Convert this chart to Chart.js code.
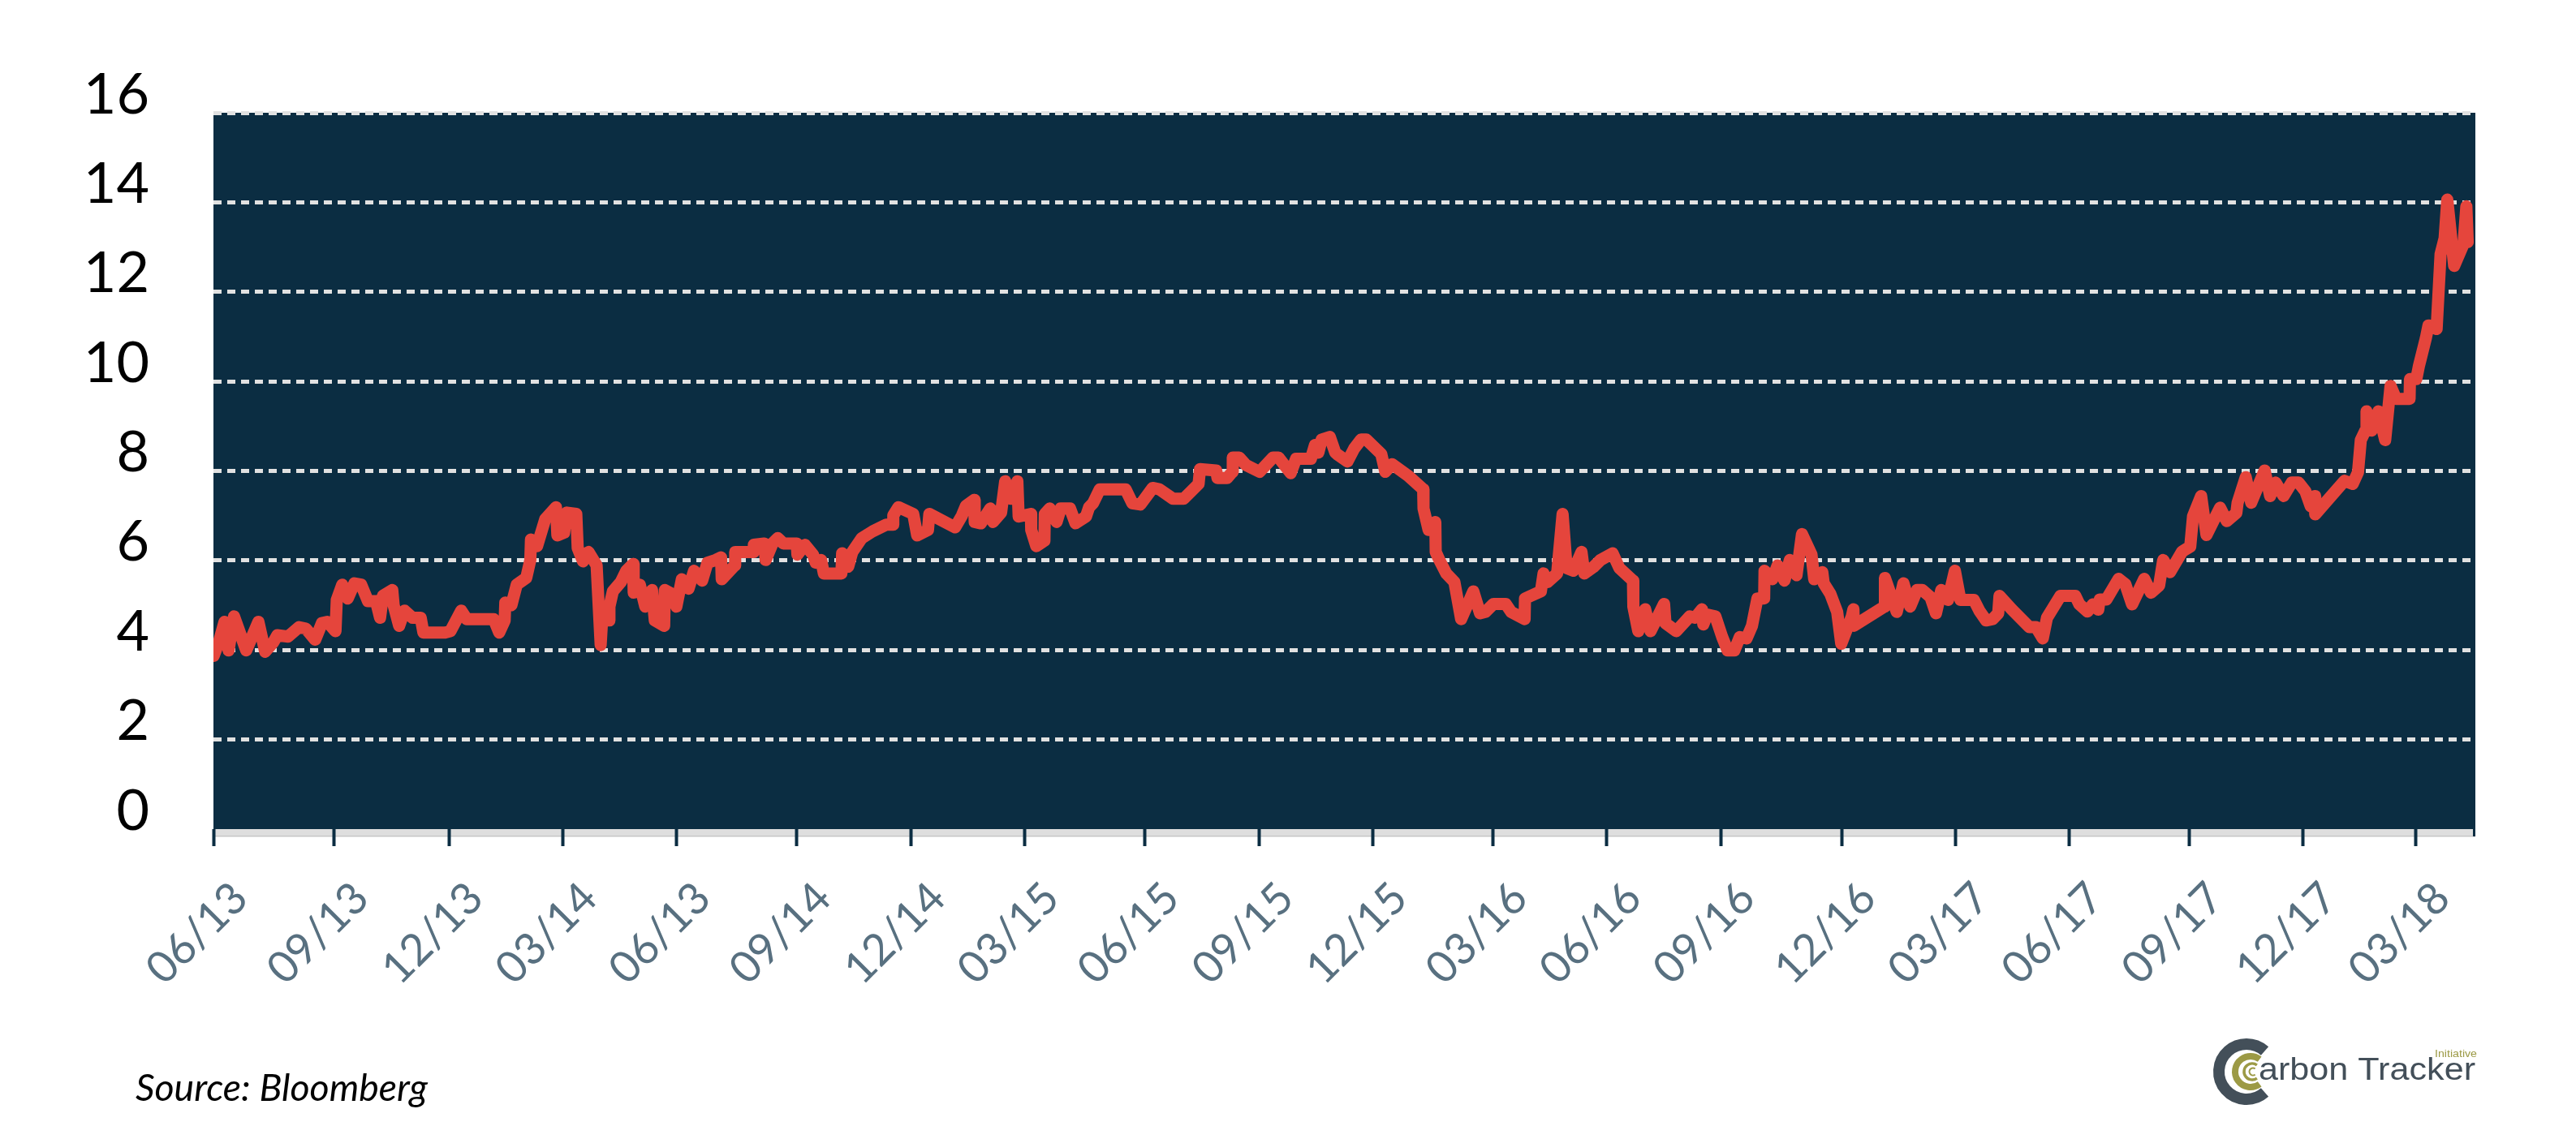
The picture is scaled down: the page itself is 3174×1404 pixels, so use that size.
<!DOCTYPE html>
<html><head><meta charset="utf-8">
<script src="https://cdn.jsdelivr.net/npm/chart.js@4.4.1/dist/chart.umd.min.js"></script>
<style>html,body{margin:0;padding:0;background:#fff;}#wrap{position:relative;width:3174px;height:1404px;}</style>
</head><body><div id="wrap"><canvas id="c" width="3174" height="1404"></canvas></div>
<script>
// x position: approx. days since 1 June 2013 (axis runs to mid-April 2018)
const dayOffsets = [
0.2,4.5,8.7,11.9,16.2,25.8,35.4,40.7,47.1,50.3,58.8,67.3,72.7,80.1,85.4,89.7,96.1,97.1,101.4,105.7,111,116.3,121.7,128,131.2,133.4,140.8,141.9,146.2,150.4,156.8,163.2,165.3,182.4,186.6,195.1,199.4,220.7,225,229.3,229.8,234.6,238.8,246.3,249.5,250,254.8,261.2,269.7,270.8,276.1,278.2,285.7,286.8,291,295.3,
301.7,304.9,306,311.3,311.8,314.5,320.8,325.1,330.4,330.9,335.7,340,345.3,347.5,354.9,355.4,361.3,364.5,368.8,374.1,378.4,384.8,389,395.4,399.7,400.2,410.5,410.8,425.2,425.5,433.8,434.8,440.2,444.4,448.7,459.3,459.8,465.7,472.1,474.2,478.5,480.6,494.5,495,499.8,503,510.5,519,529.7,535,535.3,539.3,551,554.1,562.6,563.7,584,589.3,
592.5,598.9,599.4,604.2,611.7,613.8,620.2,623.4,627.6,633,634,643.6,643.9,647.9,654.3,654.6,658.5,663.9,667.1,674.5,678.8,687,689.5,692.6,697.9,718.2,723.5,729.9,739.5,744.8,755.5,764,775.7,776.8,789.5,790.6,798.1,802.3,802.6,807.7,813,823.7,834.3,838.6,848.2,852.4,864.1,867.3,870,872.6,879,883.3,
885.4,892.9,898.2,903.6,907.8,919.5,922.7,928,940.8,952.5,952.8,956.8,962.1,962.4,965.3,970.7,977.1,982.4,992,997.3,1001.5,1007.9,1017.5,1021.8,1032.4,1032.7,1045.2,1047.3,1050.5,1058,1062.3,1065.5,1070.8,1077.2,1079.4,1086.8,1092.1,1101.7,1107,1117.7,1118,1121.9,1127.3,1131.5,1142.2,1143.3,1151.8,1162.4,1166.7,1172,1173.1,
1176.2,1182.6,1188,1192.2,1197.6,1201.8,1207.2,1211.4,1215.7,1221,1221.3,1227.4,1231.6,1237,1241.2,1246.5,1250.8,1258.3,1260.4,1266.8,1267.9,1273.2,1278.5,1281.7,1290,1291.3,1291.6,1315.8,1316.1,1325.4,1330.7,1336,1341.4,1345.6,1352,1356.3,1360.5,1365.8,1371.2,1375.5,1386.1,1390.4,1395.7,1401,1405.3,1406.3,1415.9,1429.8,1435.1,1440.4,1443.7,1454.3,1466,
1469.2,1475.6,1479.8,1484.1,1485.2,1490.5,1500.1,1505.4,1510.7,1520.3,1525.6,1532,1535.2,1540.6,1550.1,1556.5,1558.7,1565.1,1569.3,1580,1585.3,1592.8,1593.8,1600.2,1604.5,1615.1,1619.4,1623.7,1630,1636.4,1641.8,1647.1,1651.4,1654.6,1654.9,1678,1684.4,1688.6,1690.8,1695,1695.3,1699.3,1704.6,1710,1714.2,1718.5,1729.2,1729.5,1734.5,1736.6,1741.9,1744.1,1750.5,1753.6,1756.8,1758.9,1764.3,1771.7,1773.9,1775
];
const prices = [
3.87,4.20,4.63,3.99,4.75,3.99,4.63,3.96,4.17,4.33,4.30,4.51,4.48,4.23,4.60,4.63,4.42,5.12,5.46,5.15,5.49,5.46,5.09,5.09,4.72,5.21,5.34,5.00,4.54,4.88,4.72,4.72,4.39,4.39,4.42,4.88,4.69,4.69,4.39,4.66,5.06,5.00,5.46,5.61,6.01,6.47,6.32,6.92,7.19,6.56,6.62,7.07,7.04,6.28,5.98,6.19,
5.89,4.11,4.66,4.66,4.97,5.31,5.52,5.77,5.92,5.28,5.46,4.97,5.34,4.66,4.54,5.34,5.25,4.97,5.58,5.37,5.77,5.55,5.95,6.01,6.07,5.58,5.89,6.19,6.19,6.35,6.38,6.01,6.38,6.50,6.38,6.38,6.13,6.35,6.13,5.95,6.01,5.71,5.71,6.16,5.86,6.19,6.50,6.65,6.80,6.80,7.01,7.19,7.04,6.56,6.68,7.04,6.74,7.00,
7.22,7.35,6.86,6.83,7.16,6.86,7.07,7.77,7.38,7.77,6.98,7.04,6.68,6.32,6.44,7.04,7.16,6.86,7.16,7.16,6.83,6.98,7.19,7.28,7.59,7.59,7.28,7.25,7.62,7.59,7.38,7.38,7.71,8.04,8.01,7.84,7.84,7.98,8.30,8.30,8.13,7.98,8.30,8.30,7.95,8.27,8.27,8.58,8.41,8.70,8.76,8.41,
8.36,8.21,8.50,8.70,8.70,8.38,7.98,8.15,7.89,7.59,7.16,6.68,6.86,6.19,6.01,5.71,5.52,4.69,5.31,4.82,4.85,5.03,5.03,4.85,4.69,5.15,5.31,5.71,5.52,5.71,7.04,5.83,5.77,6.19,5.71,5.86,6.01,6.16,5.83,5.55,4.97,4.42,4.91,4.42,5.03,4.60,4.42,4.75,4.72,4.91,4.57,
4.79,4.75,4.29,3.99,3.99,4.29,4.26,4.54,5.15,5.15,5.77,5.58,5.89,5.55,6.01,5.67,6.59,6.13,5.58,5.74,5.49,5.25,4.85,4.14,4.75,4.91,4.54,4.97,5.61,4.85,5.49,4.97,5.34,5.34,5.18,4.82,5.34,5.12,5.77,5.12,5.12,4.88,4.66,4.69,4.82,5.21,4.91,4.51,4.51,4.26,4.72,5.21,5.21,
5.02,4.86,5.02,4.90,5.13,5.13,5.59,5.47,5.02,5.59,5.28,5.44,6.01,5.74,6.20,6.31,6.99,7.44,6.57,7.18,6.88,7.06,7.29,7.86,7.29,8.01,7.44,7.74,7.44,7.74,7.74,7.55,7.21,7.44,7.03,7.78,7.71,7.97,8.69,8.94,9.33,8.90,9.33,8.69,9.90,9.61,9.61,10.05,10.05,10.35,10.95,11.25,11.17,12.84,13.20,14.06,12.58,13.07,13.91,13.11
];
const tickDays = [0,95.2,185.4,275.2,364.4,459.3,549.4,638.9,733.5,823.6,913.1,1007.7,1097.2,1186.7,1282,1371.5,1461,1555.6,1645.1,1734];
const tickLabels = ['06/13','09/13','12/13','03/14','06/13','09/14','12/14','03/15','06/15','09/15','12/15','03/16','06/16','09/16','12/16','03/17','06/17','09/17','12/17','03/18'];
const yMin = 0, yMax = 16, yStep = 2;
const xMax = 1781;
const sourceText = 'Source: Bloomberg';

const decor = {
  id: 'decor',
  beforeDraw(chart) {
    const {ctx, chartArea: a} = chart;
    ctx.save();
    ctx.fillStyle = '#ffffff';
    ctx.fillRect(0, 0, chart.width, chart.height);
    ctx.fillStyle = '#0b2d42';
    ctx.fillRect(a.left, a.top, a.right - a.left, a.bottom - a.top);
    ctx.fillStyle = '#dedede';
    ctx.fillRect(a.left, a.bottom, a.right - a.left, 9);
    ctx.fillStyle = '#c6c6c6';
    ctx.fillRect(a.left, a.bottom + 8, a.right - a.left, 1.5);
    ctx.fillStyle = '#0b2d42';
    ctx.fillRect(a.right - 3, a.bottom, 3, 9);
    ctx.restore();
  },
  afterDraw(chart) {
    const {ctx} = chart;
    ctx.save();
    // source note
    ctx.fillStyle = '#000';
    ctx.font = 'italic 46px Lato';
    ctx.textBaseline = 'alphabetic';
    const sw = ctx.measureText(sourceText).width;
    ctx.save(); ctx.translate(167, 1357); ctx.scale(360 / sw, 1); ctx.fillText(sourceText, 0, 0); ctx.restore();
    // logo
    const cx = 2768, cy = 1321;
    ctx.lineCap = 'butt';
    ctx.strokeStyle = '#434f59';
    ctx.lineWidth = 14;
    ctx.beginPath(); ctx.arc(cx, cy, 34, 0.27 * Math.PI, 1.73 * Math.PI); ctx.stroke();
    ctx.strokeStyle = '#9c9a45';
    ctx.lineWidth = 8;
    ctx.beginPath(); ctx.arc(cx + 5, cy, 19, 0.3 * Math.PI, 1.7 * Math.PI); ctx.stroke();
    ctx.lineWidth = 3.5;
    ctx.beginPath(); ctx.arc(cx + 7, cy, 10, 0.3 * Math.PI, 1.7 * Math.PI); ctx.stroke();
    ctx.lineWidth = 2;
    ctx.beginPath(); ctx.arc(cx + 8, cy, 4.5, 0.3 * Math.PI, 1.7 * Math.PI); ctx.stroke();
    ctx.fillStyle = '#434f59';
    ctx.font = '38px "Liberation Sans"';
    const t = 'arbon Tracker';
    const w = ctx.measureText(t).width;
    ctx.save(); ctx.translate(2783, 1331); ctx.scale(267 / w, 1); ctx.fillText(t, 0, 0); ctx.restore();
    ctx.fillStyle = '#9c9a45';
    ctx.font = '13px "Liberation Sans"';
    const t2 = 'Initiative';
    const w2 = ctx.measureText(t2).width;
    ctx.save(); ctx.translate(3000, 1303); ctx.scale(52 / w2, 1); ctx.fillText(t2, 0, 0); ctx.restore();
    ctx.restore();
  }
};

const points = dayOffsets.map((d, i) => ({x: d, y: prices[i]}));

new Chart(document.getElementById('c'), {
  type: 'line',
  data: { datasets: [{
    data: points,
    borderColor: '#e5453c',
    borderWidth: 15,
    borderJoinStyle: 'round',
    borderCapStyle: 'round',
    pointRadius: 0,
    tension: 0,
    fill: false
  }]},
  options: {
    responsive: false,
    devicePixelRatio: 1,
    animation: false,
    layout: { padding: { top: 139, right: 124, left: 0, bottom: 0 } },
    plugins: { legend: { display: false }, tooltip: { enabled: false } },
    scales: {
      x: {
        type: 'linear', min: 0, max: xMax,
        afterBuildTicks: s => { s.ticks = tickDays.map(v => ({value: v})); },
        afterFit: s => { s.height = 382; },
        grid: { drawOnChartArea: false, drawTicks: true, tickLength: 21, tickColor: '#0b2d42', tickWidth: 4, color: '#0b2d42' },
        border: { display: false },
        ticks: {
          autoSkip: false, maxRotation: 45, minRotation: 45, padding: 32, labelOffset: 33,
          color: '#587080', font: { family: 'Lato', size: 54 },
          callback: (v, i) => tickLabels[i]
        }
      },
      y: {
        min: yMin, max: yMax,
        afterFit: s => { s.width = 263; },
        border: { display: false, dash: [10, 7] },
        grid: { drawTicks: false, lineWidth: 5, color: c => (c.tick && c.tick.value === 0) ? 'rgba(0,0,0,0)' : '#e1e1e1' },
        ticks: { stepSize: yStep, padding: 79, labelOffset: -22, color: '#000', font: { family: 'Lato', size: 70 } }
      }
    }
  },
  plugins: [decor]
});
</script></body></html>
